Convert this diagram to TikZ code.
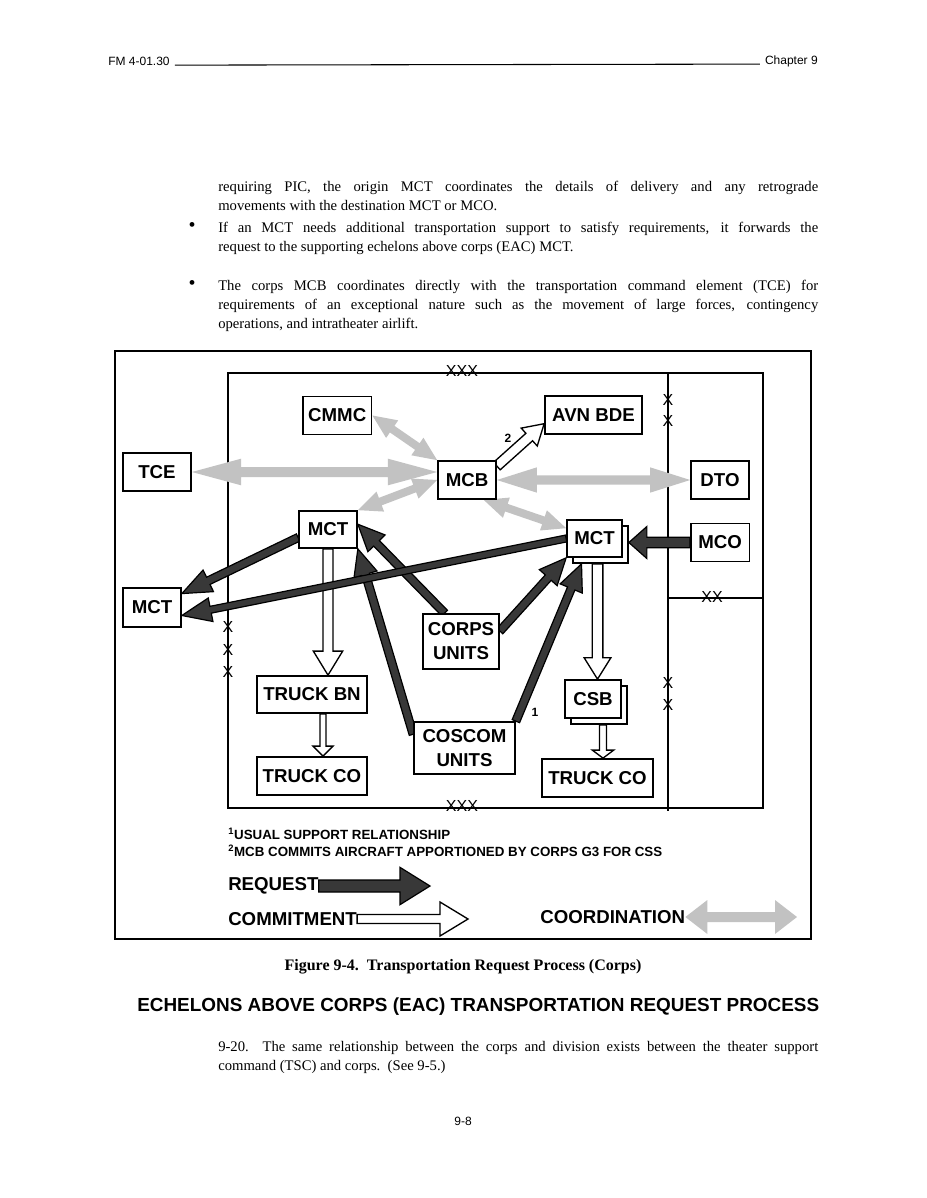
\documentclass[tikz,border=0pt]{standalone}
\usepackage{fontspec}
\setmainfont{Liberation Serif}
\setsansfont{Liberation Sans}
\usetikzlibrary{calc,shadows}

\definecolor{reqgray}{gray}{0.22}
\definecolor{crdgray}{gray}{0.76}

\pgfdeclarelayer{paper}
\pgfdeclarelayer{links}
\pgfsetlayers{paper,links,main}

% fat arrow: style, from, to, half shaft, half head, head length
\newcommand\onearrow[6]{%
  \path (#2) coordinate (oa-s) (#3) coordinate (oa-t);
  \path ($(oa-t)!#6!(oa-s)$) coordinate (oa-h);
  \path[#1] ($(oa-s)!#4!90:(oa-t)$) -- ($(oa-h)!#4!90:(oa-t)$)
    -- ($(oa-h)!#5!90:(oa-t)$) -- (oa-t) -- ($(oa-h)!#5!-90:(oa-t)$)
    -- ($(oa-h)!#4!-90:(oa-t)$) -- ($(oa-s)!#4!-90:(oa-t)$) -- cycle;}
% fat arrow with two heads
\newcommand\twoarrow[6]{%
  \path (#2) coordinate (ta-a) (#3) coordinate (ta-b);
  \path ($(ta-a)!#6!(ta-b)$) coordinate (ta-ha) ($(ta-b)!#6!(ta-a)$) coordinate (ta-hb);
  \path[#1] (ta-a) -- ($(ta-ha)!#5!90:(ta-b)$) -- ($(ta-ha)!#4!90:(ta-b)$)
    -- ($(ta-hb)!#4!90:(ta-b)$) -- ($(ta-hb)!#5!90:(ta-b)$) -- (ta-b)
    -- ($(ta-hb)!#5!-90:(ta-b)$) -- ($(ta-hb)!#4!-90:(ta-b)$)
    -- ($(ta-ha)!#4!-90:(ta-b)$) -- ($(ta-ha)!#5!-90:(ta-b)$) -- cycle;}

\begin{document}
\begin{tikzpicture}[
    x=0.75pt, y=-0.75pt,
    box/.style={draw=black, line width=1.3pt, fill=white, inner sep=0pt,
                minimum height=28.5pt, align=center,
                font=\sffamily\bfseries\fontsize{14}{18}\selectfont},
    stack/.style={box, copy shadow={shadow xshift=4.5pt, shadow yshift=-4.5pt}},
    frame/.style={draw=black, line width=0.9pt},
    cross/.style={inner sep=0pt, font=\sffamily\fontsize{12}{12}\selectfont},
    req/.style={fill=reqgray, draw=black, line width=0.9pt},
    com/.style={fill=white, draw=black, line width=1pt},
    crd/.style={fill=crdgray},
    body/.style={inner sep=0pt, anchor=north west, text width=450pt, align=justify,
                 font=\fontsize{11}{14.3}\selectfont},
    bullet/.style={inner sep=0pt, font=\fontsize{15}{15}\selectfont},
    hdr/.style={inner sep=0pt, font=\sffamily\fontsize{9}{11}\selectfont},
    note/.style={inner sep=0pt, anchor=west,
                 font=\sffamily\bfseries\fontsize{10}{12}\selectfont},
    key/.style={inner sep=0pt, anchor=west,
                font=\sffamily\bfseries\fontsize{14}{16}\selectfont},
    num/.style={inner sep=0pt, font=\sffamily\bfseries\fontsize{9}{10}\selectfont}
  ]
  \useasboundingbox (0,0) rectangle (926,1198);
  \begin{pgfonlayer}{paper}
    \fill[white] (0,0) rectangle (926,1198);
  \end{pgfonlayer}

  % page head
  \node[hdr, anchor=west] (fm) at (108,61) {FM 4-01.30};
  \node[hdr, anchor=east] (chap) at (818,61) {Chapter 9};
  \draw[line width=0.8pt] ($(fm.base east)+(5,0)$) -- ($(chap.base west)+(-5,0)$);

  % text above the figure
  \node[body] (para) at (218,181) {requiring PIC, the origin MCT coordinates the details of delivery and any retrograde\linebreak movements with the destination MCT or MCO.};
  \node[body] (item1) at (218,222) {If an MCT needs additional transportation support to satisfy requirements, it forwards the\linebreak request to the supporting echelons above corps (EAC) MCT.};
  \node[body] (item2) at (218,280) {The corps MCB coordinates directly with the transportation command element (TCE) for\linebreak requirements of an exceptional nature such as the movement of large forces, contingency\linebreak operations, and intratheater airlift.};
  \node[bullet] (dot1) at (192,227) {\textbullet};
  \node[bullet] (dot2) at (192,285) {\textbullet};

  % figure frames
  \begin{pgfonlayer}{paper}
    \draw[frame] (115,351) rectangle (811,939);
    \draw[frame] (228,373) rectangle (763,808);
    \draw[frame] (668,373) -- (668,811);
    \draw[frame] (668,598) -- (763,598);
  \end{pgfonlayer}
  \node[cross] (xxxtop) at (462,371) {XXX};
  \node[cross] (xxxbot) at (462,806) {XXX};
  \node[cross] (xxdiv) at (712,597) {XX};
  \foreach \yy in {627,650,672}
    \node[cross] at (228,\yy) {X};
  \foreach \yy in {400,421,683,705}
    \node[cross] at (668,\yy) {X};

  % units
  \node[box, minimum width=51.5pt] (cmmc) at (337.2,415.5) {CMMC};
  \node[box, minimum width=51pt] (tce) at (157,472) {TCE};
  \node[box, minimum width=43.5pt] (mcb) at (467,480) {MCB};
  \node[box, minimum width=72.75pt] (avn) at (593.5,415) {AVN BDE};
  \node[box, minimum width=43.5pt] (dto) at (720,480) {DTO};
  \node[box, minimum width=44pt] (mco) at (720.2,542.5) {MCO};
  \node[stack, minimum width=41.25pt, minimum height=27.75pt] (mctr) at (594.5,538.5) {MCT};
  \node[box, minimum width=43.5pt, minimum height=27.75pt] (mctl) at (328,529.5) {MCT};
  \node[box, minimum width=43.5pt, minimum height=29.25pt] (mcto) at (152,607.5) {MCT};
  \node[box, minimum width=57pt, minimum height=41.25pt] (corps) at (461,641.5) {CORPS\\UNITS};
  \node[box, minimum width=75.75pt, minimum height=39pt] (coscom) at (464.5,748) {COSCOM\\UNITS};
  \node[box, minimum width=82.5pt, minimum height=27.75pt] (truckbn) at (312,694.5) {TRUCK BN};
  \node[box, minimum width=82.5pt] (truckcol) at (312,776) {TRUCK CO};
  \node[stack, minimum width=42pt] (csb) at (593,699) {CSB};
  \node[box, minimum width=83.25pt] (truckcor) at (597.5,778) {TRUCK CO};

  % connector ends
  \coordinate (mcoin) at ($(mco.west -| mctr.east)+(6,0)$);
  \coordinate (cosin) at ($(mctr.south)+(-13,6)$);
  \coordinate (csbtop) at ($(mctr.south)+(3,6)$);
  \coordinate (csbin) at ($(mctr.south |- csb.north)+(3,0)$);
  \coordinate (csbbot) at ($(csb.south)+(10,6)$);
  \coordinate (tcoin) at ($(csb.south |- truckcor.north)+(10,0)$);
  \coordinate (bnin) at (mctl.south |- truckbn.north);
  \coordinate (bnbot) at ($(truckbn.south)+(11,0)$);
  \coordinate (coin) at ($(truckcol.north)+(11,0)$);
  \coordinate (tcein) at (tce.east -| mcb.west);

  \begin{pgfonlayer}{links}
  % coordination
  \twoarrow{crd}{tce.east}{tcein}{3.75pt}{10pt}{37pt}
  \twoarrow{crd}{cmmc.east}{mcb.north west}{3pt}{8pt}{18pt}
  \twoarrow{crd}{mctl.north east}{mcb.west}{3pt}{8pt}{18pt}
  \twoarrow{crd}{mcb.east}{dto.west}{3.5pt}{9.5pt}{30pt}
  \twoarrow{crd}{mcb.-50}{mctr.160}{3pt}{8pt}{18pt}

  % commitment
  \onearrow{com}{mcb.25}{avn.190}{3.75pt}{9pt}{15pt}
  \onearrow{com}{mctl.south}{bnin}{3.75pt}{11pt}{18pt}
  \onearrow{com}{bnbot}{coin}{2.2pt}{7.5pt}{7.5pt}
  \onearrow{com}{csbtop}{csbin}{4pt}{10pt}{16pt}
  \onearrow{com}{csbbot}{tcoin}{2.6pt}{8pt}{6pt}

  % request
  \onearrow{req}{mco.west}{mcoin}{4pt}{12pt}{13.5pt}
  \onearrow{req}{mctl.195}{mcto.25}{3pt}{9pt}{22pt}
  \onearrow{req}{corps.120}{mctl.10}{3pt}{9pt}{20pt}
  \onearrow{req}{corps.15}{mctr.south west}{3pt}{9pt}{20pt}
  \onearrow{req}{coscom.165}{mctl.south east}{3pt}{9pt}{20pt}
  \onearrow{req}{coscom.north east}{cosin}{3pt}{9pt}{20pt}
  \onearrow{req}{mctr.west}{mcto.-15}{2.6pt}{9pt}{22pt}
  \end{pgfonlayer}

  \node[num] (two) at (508,438) {2};
  \node[num] (one) at (535,712) {1};

  % notes and key
  \node[note] (fn1) at (228,834) {\textsuperscript{1}USUAL SUPPORT RELATIONSHIP};
  \node[note] (fn2) at (228,851) {\textsuperscript{2}MCB COMMITS AIRCRAFT APPORTIONED BY CORPS G3 FOR CSS};
  \node[key] (kreq) at (228,886) {REQUEST};
  \node[key] (kcom) at (228,919) {COMMITMENT};
  \node[key] (kcrd) at (540,917) {COORDINATION};
  \coordinate (kreqend) at (430,886);
  \coordinate (kcomend) at (468,919);
  \coordinate (kcrdend) at (797,917);
  \onearrow{req}{kreq.east}{kreqend}{4.5pt}{14pt}{22.5pt}
  \onearrow{com}{kcom.east}{kcomend}{3.4pt}{12.75pt}{21pt}
  \twoarrow{crd}{kcrd.east}{kcrdend}{3.75pt}{12.75pt}{16.5pt}

  % caption and following text
  \node[inner sep=0pt, font=\bfseries\fontsize{12}{14}\selectfont] (cap) at (463,967)
    {Figure 9-4.\ \ Transportation Request Process (Corps)};
  \node[inner sep=0pt, anchor=west, font=\sffamily\bfseries\fontsize{14.2}{16}\selectfont] (head) at (137,1007)
    {ECHELONS ABOVE CORPS (EAC) TRANSPORTATION REQUEST PROCESS};
  \node[body] (para20) at (218,1041) {9-20.\ \ The same relationship between the corps and division exists between the theater support\linebreak command (TSC) and corps.\ \ (See 9-5.)};
  \node[hdr] (page) at (463,1121) {9-8};
\end{tikzpicture}
\end{document}
